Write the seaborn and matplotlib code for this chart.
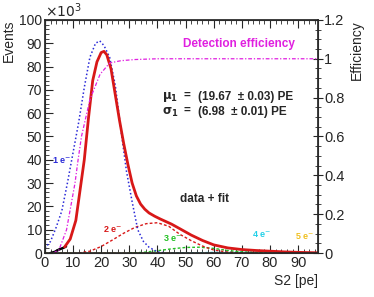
import numpy as np
import pandas as pd
import seaborn as sns
import matplotlib
matplotlib.use("Agg")
import matplotlib.pyplot as plt
from matplotlib.ticker import MultipleLocator

# values (S2 in pe, events in units of 10^3)
data_x = [2, 3.5, 5, 6.5, 7.5]
data_y = [0, 0.5, 1.5, 2.2, 2.8]

fit_x = [7, 9, 11, 12.5, 14, 15.5, 17, 18.5, 20, 21, 22, 23.5, 25, 26.5, 28, 29.5, 31, 32.5, 34,
         35.5, 37, 39, 41, 43, 45, 48, 52, 56, 60, 65, 70, 75, 80, 85, 90, 97]
fit_y = [2.6, 6, 14, 27, 40, 58, 74, 82, 86, 86.5, 85, 79, 68, 57, 47, 38, 30, 24.5, 21,
         18.8, 17.2, 15.8, 14.6, 13.5, 12.4, 10.4, 7.7, 5.4, 3.5, 2.2, 1.5, 1.1, 0.8, 0.5, 0.3, 0.1]

e1_x = [0, 2, 4, 6, 8, 10, 12, 14, 16, 18, 19.5, 21, 23, 25, 27, 29, 31, 33, 35, 37, 40, 43]
e1_y = [2, 5, 11, 18, 30, 43, 56, 71, 84, 90, 91, 89, 84, 72, 53, 35, 22, 10, 5, 2.5, 0.5, 0]

e2_x = [12, 16, 20, 24, 28, 32, 36, 40, 44, 48, 52, 56, 60, 65, 70]
e2_y = [0, 0.8, 2.8, 5.6, 8.5, 11, 12.6, 13, 11.5, 8, 5.3, 3, 1.3, 0.4, 0]

e3_x = [30, 35, 40, 45, 50, 55, 60, 65, 70, 75, 80]
e3_y = [0, 0.3, 1, 1.8, 2.4, 2.5, 2, 1.1, 0.5, 0.2, 0]

e4_x = [45, 55, 65, 70, 75, 85, 97]
e4_y = [0, 0.15, 0.4, 0.5, 0.4, 0.15, 0]

e5_x = [0, 60, 75, 88, 97]
e5_y = [0, 0, 0.05, 0.1, 0.08]

eff_x = [3, 5, 7.7, 10.7, 11.8, 13, 16, 19.6, 23, 27, 32, 40, 50, 97]
eff_y = [0, 0.016, 0.12, 0.36, 0.48, 0.6, 0.79, 0.92, 0.978, 0.99, 0.996, 1.0, 1.0, 1.0]

sns.set_theme(style="ticks")
plt.rcParams["font.family"] = ["Liberation Sans", "DejaVu Sans"]

fig = plt.figure(figsize=(3.74, 2.97), dpi=100)
ax = fig.add_axes([0.120, 0.148, 0.730, 0.785])
ax2 = ax.twinx()

blue = "#2a2ad8"
red = "#d81818"
green = "#22c022"
cyan = "#22d0e8"
yellow = "#f0c020"
magenta = "#e020e0"

sns.lineplot(x=e5_x, y=e5_y, ax=ax, color=yellow, lw=1.0, linestyle=(0, (2, 1.5)))
sns.lineplot(x=e4_x, y=e4_y, ax=ax, color=cyan, lw=1.0, linestyle=(0, (2, 1.5)))
sns.lineplot(x=e3_x, y=e3_y, ax=ax, color=green, lw=1.0, linestyle=(0, (2, 1.5)))
sns.lineplot(x=e2_x, y=e2_y, ax=ax, color=red, lw=1.0, linestyle=(0, (2, 1.5)))
sns.lineplot(x=e1_x, y=e1_y, ax=ax, color=blue, lw=1.1, linestyle=(0, (1, 1.5)))
sns.lineplot(x=data_x, y=data_y, ax=ax, color="black", lw=1.8)
sns.lineplot(x=fit_x, y=fit_y, ax=ax, color=red, lw=2.0)
sns.lineplot(x=eff_x, y=eff_y, ax=ax2, color=magenta, lw=0.9, linestyle=(0, (3, 1.5, 1, 1.5)))

ax.set_xlim(0, 97)
ax.set_ylim(0, 100)
ax2.set_ylim(0, 1.2)

ax.xaxis.set_major_locator(MultipleLocator(10))
ax.xaxis.set_minor_locator(MultipleLocator(2))
ax.yaxis.set_major_locator(MultipleLocator(10))
ax.yaxis.set_minor_locator(MultipleLocator(2))
ax2.yaxis.set_minor_locator(MultipleLocator(0.05))
ax2.set_yticks([0, 0.2, 0.4, 0.6, 0.8, 1.0, 1.2])
ax2.set_yticklabels(["0", "0.2", "0.4", "0.6", "0.8", "1", "1.2"])

ax.tick_params(axis="both", which="major", direction="in", length=6, width=0.8,
               labelsize=10.5, top=True, right=False, pad=2)
ax.tick_params(axis="y", which="major", labelsize=10)
ax.tick_params(axis="both", which="minor", direction="in", length=3, width=0.6, top=True, right=False)
ax2.tick_params(axis="y", which="major", direction="inout", length=7, width=0.8, labelsize=10.5, pad=1)
ax2.tick_params(axis="y", which="minor", direction="inout", length=4, width=0.6)
for sp in ax.spines.values():
    sp.set_linewidth(0.8)
    sp.set_color("#555555")

ax.set_xlabel("S2 [pe]", fontsize=10, loc="right", labelpad=3)
ax.set_ylabel("Events", fontsize=10, loc="top", labelpad=2)
ax2.set_ylabel("Efficiency", fontsize=10, loc="top", labelpad=4)
ax.text(0.0, 1.0, r"$\times10^3$", transform=ax.transAxes, fontsize=10, ha="left", va="bottom")

ax.text(49, 89.7, "Detection efficiency", color=magenta, fontsize=8.5, fontweight="bold", va="center")
ax.text(41.6, 67, r"$\mathbf{\mu_1}$  =", fontsize=8.5, fontweight="bold", va="center")
ax.text(41.6, 60.5, r"$\mathbf{\sigma_1}$  =", fontsize=8.5, fontweight="bold", va="center")
ax.text(54.5, 67, "(19.67  ± 0.03) PE", fontsize=8.5, fontweight="bold", va="center")
ax.text(54.5, 60.5, "(6.98  ± 0.01) PE", fontsize=8.5, fontweight="bold", va="center")
ax.text(48, 23, "data + fit", fontsize=8.5, fontweight="bold", va="center")

labels = ["1 e$^{-}$", "2 e$^{-}$", "3 e$^{-}$", "4 e$^{-}$", "5 e$^{-}$"]
label_x = [2.5, 20.6, 42, 73.7, 89]
label_y = [40, 10.3, 6.4, 8, 7.3]
label_c = [blue, red, green, cyan, yellow]
for t, lx, ly, c in zip(labels, label_x, label_y, label_c):
    ax.text(lx, ly, t, color=c, fontsize=6.5, fontweight="bold", va="center")

fig.savefig("out.png", dpi=100)
